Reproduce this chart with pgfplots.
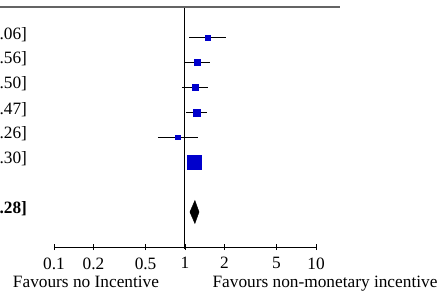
\documentclass[border=0pt]{standalone}
\usepackage{pgfplots}
\pgfplotsset{compat=1.18}
\usepackage{fontspec}
\setmainfont{Liberation Serif}
\definecolor{sqblue}{RGB}{0,0,204}
\definecolor{hdgray}{RGB}{100,100,100}
\begin{document}
\begin{tikzpicture}[x=1pt,y=1pt,font=\fontsize{17.3}{20}\selectfont]
\useasboundingbox (0,0) rectangle (443,-291);
\clip (0,0) rectangle (443,-291);
% header rule
\draw[hdgray, line width=2pt] (0,-7.5) -- (340,-7.5);
% main data axis (y in pixel rows)
\begin{axis}[
  at={(0,0)}, anchor=north west,
  width=443pt, height=291pt, scale only axis,
  xmode=log, xmin=0.03872, xmax=93.19,
  ymin=-291, ymax=0,
  axis lines=none, clip=false,
]
% line of no effect
\addplot[black, line width=1pt] coordinates {(1,-8) (1,-249)};
% confidence intervals
\addplot[black, line width=0.8pt] coordinates {(1.08,-37.7) (2.06,-37.7)};
\addplot[black, line width=0.8pt] coordinates {(0.98,-62.3) (1.56,-62.3)};
\addplot[black, line width=0.8pt] coordinates {(0.95,-87.3) (1.50,-87.3)};
\addplot[black, line width=0.8pt] coordinates {(1.02,-112.3) (1.47,-112.3)};
\addplot[black, line width=0.8pt] coordinates {(0.62,-137) (1.26,-137)};
\addplot[black, line width=0.8pt] coordinates {(1.05,-162) (1.30,-162)};
% point estimates
\addplot[only marks, mark=square*, mark size=2.4pt, sqblue] coordinates {(1.48,-37.7)};
\addplot[only marks, mark=square*, mark size=3pt, sqblue] coordinates {(1.23,-62.3)};
\addplot[only marks, mark=square*, mark size=3pt, sqblue] coordinates {(1.19,-87.3)};
\addplot[only marks, mark=square*, mark size=3.5pt, sqblue] coordinates {(1.22,-112.3)};
\addplot[only marks, mark=square*, mark size=2.1pt, sqblue] coordinates {(0.88,-137)};
\addplot[only marks, mark=square*, mark size=7pt, sqblue] coordinates {(1.17,-162)};
% pooled diamond
\addplot[black, fill=black] coordinates {(1.09,-212) (1.19,-200.5) (1.28,-212) (1.19,-223.5)} --cycle;
\end{axis}
% scale axis
\begin{axis}[
  at={(54pt,-247pt)}, anchor=south west,
  width=262pt, height=10pt, scale only axis,
  xmode=log, xmin=0.1, xmax=10, ymin=0, ymax=1,
  axis x line=bottom, axis y line=none,
  x axis line style={-, line width=0.9pt},
  xtick={0.1,0.2,0.5,1,2,5,10},
  xticklabels={0.1,0.2,0.5,1,2,5,10},
  tick align=center, major tick length=6pt,
  every tick/.style={line width=0.9pt, black},
  xminorticks=false,
  /pgf/number format/assume math mode=true,
  xticklabel style={font=\fontsize{17.3}{20}\selectfont, yshift=-4pt},
]
\end{axis}
% study CI texts (left column, cut at page edge)
\node[anchor=base east] at (30.5,-39.5) {1.48 [1.08, 2.06]};
\node[anchor=base east] at (30.5,-64) {1.23 [0.98, 1.56]};
\node[anchor=base east] at (30.5,-89) {1.19 [0.95, 1.50]};
\node[anchor=base east] at (30.5,-114) {1.22 [1.02, 1.47]};
\node[anchor=base east] at (30.5,-138.7) {0.88 [0.62, 1.26]};
\node[anchor=base east] at (30.5,-163.7) {1.17 [1.05, 1.30]};
\node[anchor=base east, font=\fontsize{17.3}{20}\selectfont\bfseries] at (30.5,-213.7) {1.19 [1.10, 1.28]};
% favours labels
\node[anchor=base] at (86,-287.5) {Favours no Incentive};
\node[anchor=base] at (325,-287.5) {Favours non-monetary incentive};
\end{tikzpicture}
\end{document}
